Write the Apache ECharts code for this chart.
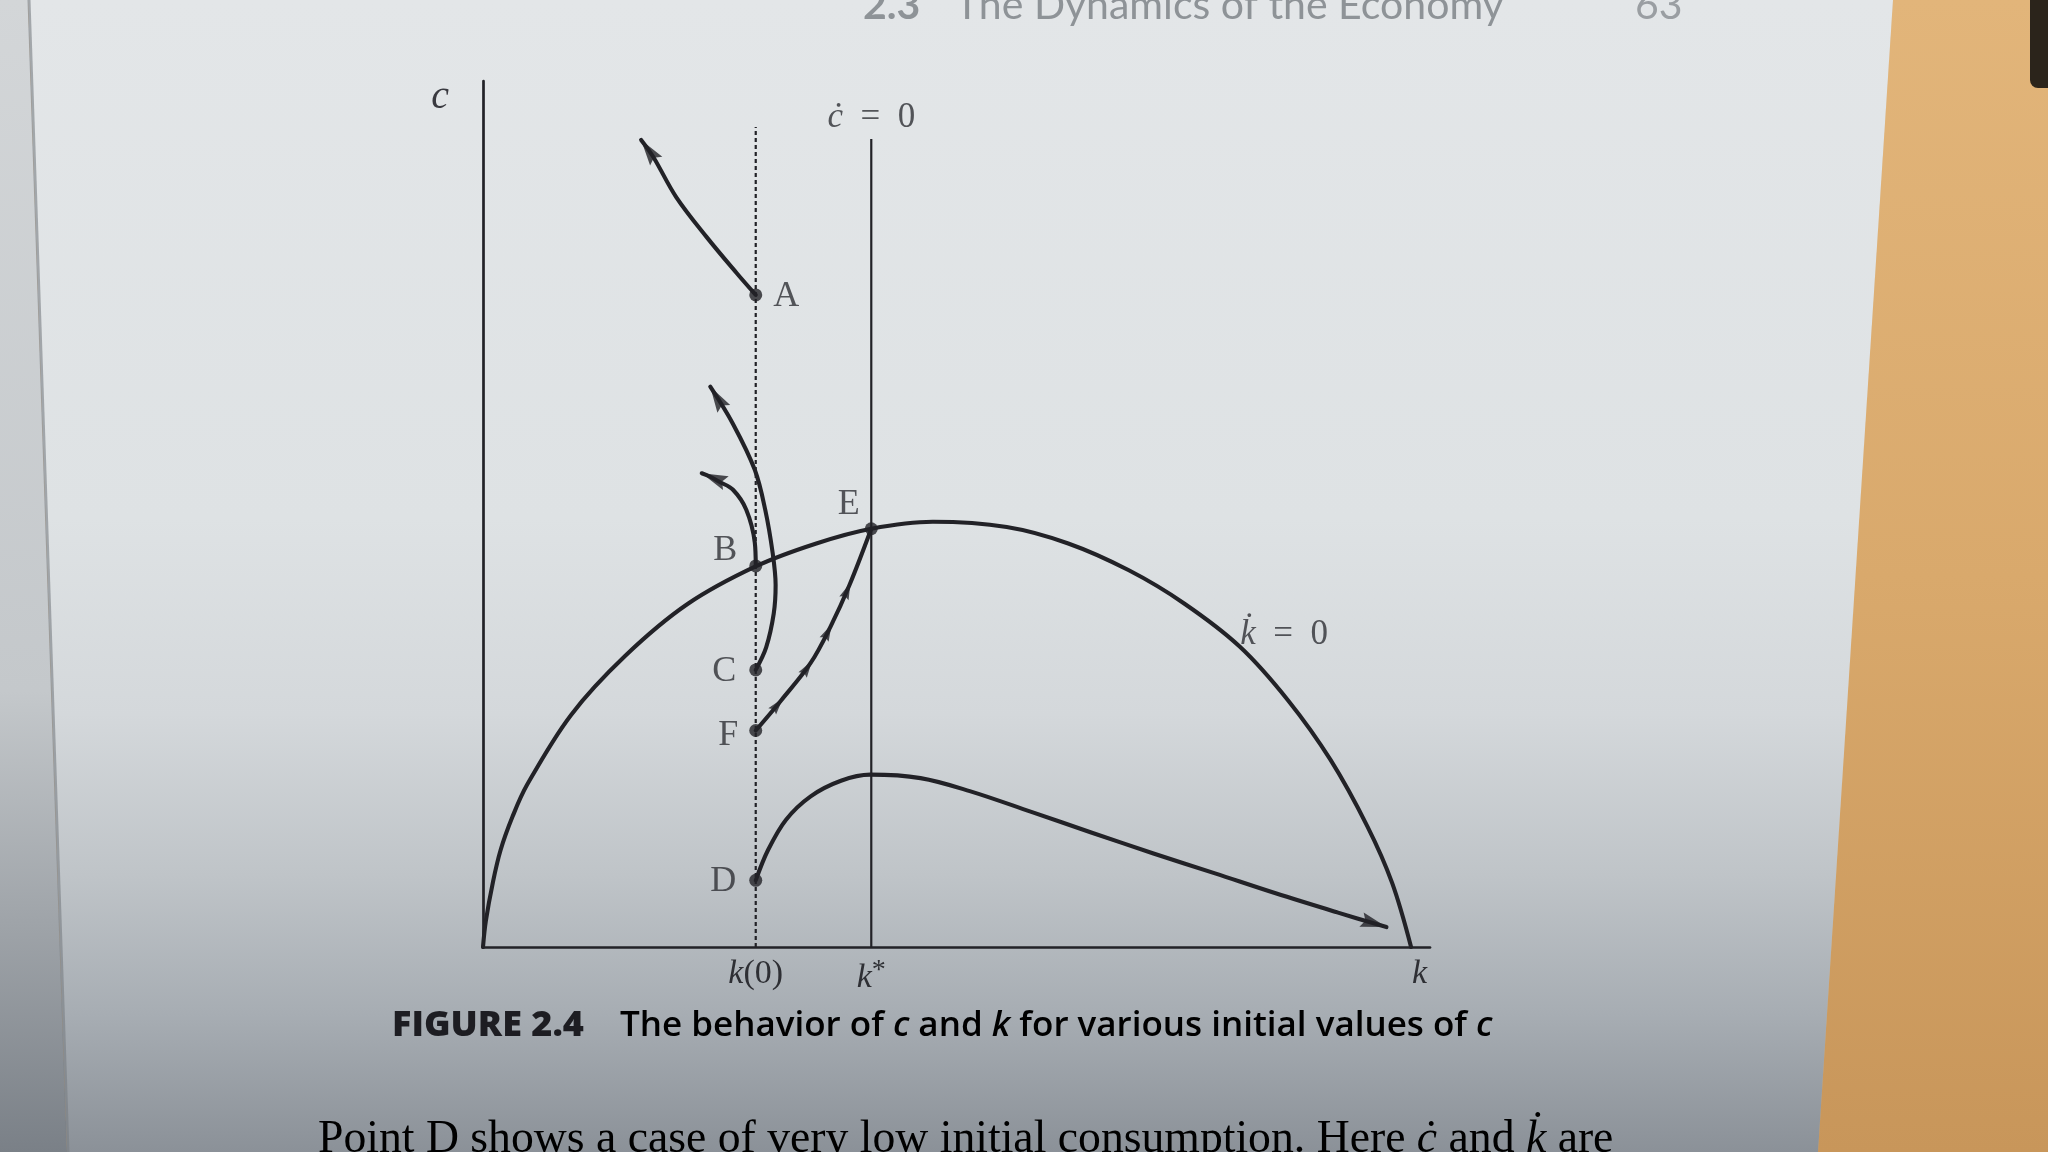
<!DOCTYPE html>
<html><head><meta charset="utf-8">
<script src="https://cdn.jsdelivr.net/npm/echarts@6/dist/echarts.min.js"></script>
<style>html,body{margin:0;padding:0;background:#dcaa6b}#chart{width:2048px;height:1152px}</style>
</head><body><div id="chart"></div>
<script>
// ---------- data ----------
const k0 = 28.8;          // k(0)
const kStar = 41.0;       // k*
const cDotTop = 93.3;     // top of the c-dot = 0 line
const k0LineTop = 94.7;   // top of the dotted k(0) line

// k-dot = 0 locus
const kdotK = [0, 0.3, 1.05, 1.86, 3.1, 4.64, 9.3, 15.0, 21.6, 28.9, 35.2, 41.0, 47.5, 55.3, 61.8, 68.2, 74.0, 79.9, 85.0, 89.5, 93.4, 96.0, 98.0];
const kdotC = [0, 3.0, 7.5, 11.2, 15.0, 18.7, 26.8, 33.6, 39.6, 44.0, 46.6, 48.3, 49.1, 48.5, 46.6, 43.5, 39.7, 34.7, 28.5, 21.6, 13.9, 7.4, 0];

// trajectories
const pathAK = [28.8, 26.8, 23.6, 20.4, 18.0, 16.7];
const pathAC = [75.3, 77.8, 82.0, 86.6, 91.2, 93.2];
const pathBK = [28.8, 28.7, 27.8, 26.4, 25.0, 24.0, 23.1];
const pathBC = [44.0, 46.7, 50.5, 52.8, 53.7, 54.3, 54.7];
const pathCK = [28.8, 29.9, 30.7, 30.9, 30.6, 29.8, 28.7, 26.4, 24.0];
const pathCC = [32.0, 34.6, 38.5, 41.8, 45.4, 50.5, 55.1, 60.4, 64.7];
const pathFK = [28.8, 31.5, 34.6, 36.7, 38.7, 41.0];
const pathFC = [25.0, 28.5, 32.8, 37.0, 41.8, 48.3];
const pathDK = [28.8, 30.1, 32.0, 34.6, 37.8, 40.9, 46.2, 51.4, 57.9, 64.3, 70.8, 77.3, 83.7, 90.2, 95.4];
const pathDC = [7.7, 11.2, 14.7, 17.4, 19.2, 19.9, 19.5, 18.0, 15.6, 13.2, 10.8, 8.5, 6.2, 4.0, 2.3];

// labelled points
const pointNames = ['A', 'B', 'C', 'D', 'E', 'F'];
const pointK = [28.8, 28.8, 28.8, 28.8, 41.0, 28.8];
const pointC = [75.3, 44.0, 32.0, 7.7, 48.3, 25.0];

// x-axis tick labels
const xTickValues = [k0, kStar, 98.9];
const xTickLabels = ['{i|k}(0)', '{i|k}{s|*}', '{i|k}'];

// curve annotations
const annoText = ['{i|ċ}\u2002=\u20020', '{i|k\u0307}\u2002=\u20020'];
const annoK = [kStar, 84.6];
const annoC = [95.7, 36.1];

// ---------- helpers ----------
const zip = (a, b) => a.map((v, i) => [v, b[i]]);
const INK = '#222227';
const TXT = '#2e2f34';
const SERIF = '"Liberation Serif", "DejaVu Serif", serif';
const SANS = '"Open Sans", Lato, sans-serif';

const chart = echarts.init(document.getElementById('chart'), null, {renderer: 'canvas'});

const curve = (name, ks, cs, w) => ({
  name, type: 'line', data: zip(ks, cs), smooth: 0.35, showSymbol: false, symbol: 'none',
  lineStyle: {color: INK, width: w || 4.1, cap: 'round', join: 'round'}, z: 3, silent: true
});

const labelPlace = {
  A: {position: 'right', distance: 11, offset: [0, 2]},
  B: {position: 'left', distance: 12, offset: [0, -15]},
  C: {position: 'left', distance: 13, offset: [0, 2]},
  D: {position: 'left', distance: 13, offset: [0, 1]},
  E: {position: 'left', distance: 5, offset: [0, -24]},
  F: {position: 'left', distance: 11, offset: [0, 5]}
};

const page = [[28, 0], [1893, 0], [1818, 1152], [67, 1152]];

const option = {
  animation: false,
  backgroundColor: '#d9a86b',
  grid: {left: 483, right: 618, top: 81, bottom: 205, containLabel: false},
  xAxis: {
    type: 'value', min: 0, max: 100,
    axisLine: {show: true, onZero: false, lineStyle: {color: INK, width: 2.7}},
    axisTick: {show: false}, splitLine: {show: false},
    axisLabel: {
      show: true, customValues: xTickValues, margin: 10,
      formatter: v => xTickLabels[xTickValues.indexOf(v)] || '',
      fontFamily: SERIF, fontSize: 34, color: TXT,
      rich: {
        i: {fontFamily: SERIF, fontStyle: 'italic', fontSize: 34, color: TXT},
        s: {fontFamily: SERIF, fontSize: 28, color: TXT, padding: [0, 0, 14, 0]}
      }
    }
  },
  yAxis: {
    type: 'value', min: 0, max: 100,
    axisLine: {show: true, onZero: false, lineStyle: {color: INK, width: 2.7}},
    axisTick: {show: false}, splitLine: {show: false}, axisLabel: {show: false},
    name: 'c', nameLocation: 'end', nameGap: -36,
    nameTextStyle: {fontFamily: SERIF, fontStyle: 'italic', fontSize: 40, color: '#3a3a40', align: 'right', padding: [0, 34, 0, 0]}
  },
  graphic: [
    {type: 'polygon', z: -10, shape: {points: [[1893, 0], [2048, 0], [2048, 1152], [1818, 1152]]},
     style: {fill: new echarts.graphic.LinearGradient(0, 0, 0, 1, [{offset: 0, color: '#e2b57a'}, {offset: 0.5, color: '#d9a96c'}, {offset: 1, color: '#c8965a'}])}},
    {type: 'rect', z: -9, shape: {x: 2030, y: -10, width: 30, height: 98, r: 8}, style: {fill: '#2b241b'}},
    {type: 'polygon', z: -10, shape: {points: [[0, 0], [28, 0], [67, 1152], [0, 1152]]},
     style: {fill: new echarts.graphic.LinearGradient(0, 0, 0, 1, [{offset: 0, color: '#d3d6d8'}, {offset: 0.6, color: '#c4c8cb'}, {offset: 1, color: '#7a8087'}])}},
    {type: 'polygon', z: -10, shape: {points: page},
     style: {fill: new echarts.graphic.LinearGradient(0, 0, 0, 1, [
       {offset: 0, color: '#e3e6e8'}, {offset: 0.45, color: '#dee2e4'}, {offset: 0.62, color: '#d4d8db'},
       {offset: 0.76, color: '#bfc4c8'}, {offset: 0.88, color: '#a7adb3'}, {offset: 1, color: '#8b9198'}])}},
    {type: 'polyline', z: -9, shape: {points: [[29, 0], [68, 1152]]}, style: {stroke: 'rgba(120,125,130,0.6)', lineWidth: 3}},
    // running head
    {type: 'text', z: 5, x: 863, y: 26, style: {text: '2.3', fontFamily: 'Lato, sans-serif', fontWeight: 'bold', fontSize: 41, fill: '#8e9397', verticalAlign: 'bottom'}},
    {type: 'text', z: 5, x: 955, y: 26, style: {text: 'The Dynamics of the Economy', fontFamily: 'Lato, sans-serif', fontSize: 41, fill: '#8e9397', verticalAlign: 'bottom'}},
    {type: 'text', z: 5, x: 1635, y: 26, style: {text: '63', fontFamily: 'Lato, sans-serif', fontSize: 41, fill: '#9a9ea2', verticalAlign: 'bottom'}},
    // caption
    {type: 'text', z: 5, x: 392, y: 1026, style: {text: 'FIGURE 2.4', fontFamily: SANS, fontWeight: 800, fontSize: 36, fill: '#1d1d22', verticalAlign: 'middle'}},
    {type: 'text', z: 5, x: 620, y: 1026, style: {
      text: '{n|The behavior of }{i|c}{n| and }{i|k}{n| for various initial values of }{i|c}',
      verticalAlign: 'middle',
      rich: {
        n: {fontFamily: SANS, fontWeight: 600, fontSize: 35, color: '#1d1d22'},
        i: {fontFamily: SANS, fontWeight: 600, fontStyle: 'italic', fontSize: 35, color: '#1d1d22'}
      }}},
    // body text
    {type: 'text', z: 5, x: 318, y: 1163, style: {
      text: '{n|Point D shows a case of very low initial consumption. Here }{i|ċ}{n| and }{i|k\u0307}{n| are}',
      verticalAlign: 'bottom',
      rich: {
        n: {fontFamily: SERIF, fontSize: 45.7, color: '#24242a'},
        i: {fontFamily: SERIF, fontStyle: 'italic', fontSize: 45.7, color: '#24242a'}
      }}}
  ],
  series: [
    {name: 'k(0)', type: 'line', data: [[k0, 0], [k0, k0LineTop]], symbol: 'none', silent: true,
     lineStyle: {color: INK, width: 2.2, type: [4, 3]}, z: 2},
    {name: 'cdot', type: 'line', data: [[kStar, 0], [kStar, cDotTop]], symbol: 'none', silent: true,
     lineStyle: {color: INK, width: 2.2}, z: 2},
    curve('kdot', kdotK, kdotC, 4.1),
    curve('A', pathAK, pathAC),
    curve('B', pathBK, pathBC),
    curve('C', pathCK, pathCC),
    curve('F', pathFK, pathFC),
    curve('D', pathDK, pathDC),
    {name: 'points', type: 'scatter', z: 6, silent: true, symbol: 'circle', symbolSize: 13,
     itemStyle: {color: INK},
     data: pointNames.map((n, i) => ({
       value: [pointK[i], pointC[i]], name: n,
       label: Object.assign({show: true, formatter: n, fontFamily: SERIF, fontSize: 36, color: TXT}, labelPlace[n])
     }))},
    {name: 'annotations', type: 'scatter', z: 6, silent: true, symbolSize: 0,
     data: annoText.map((t, i) => ({value: [annoK[i], annoC[i]]})),
     label: {show: true, position: 'inside',
       formatter: p => annoText[p.dataIndex],
       fontFamily: SERIF, fontSize: 35, color: TXT,
       rich: {i: {fontFamily: SERIF, fontStyle: 'italic', fontSize: 35, color: TXT}}}},
    {id: 'arrows', name: 'arrows', type: 'scatter', z: 7, silent: true, data: []}
  ]
};
chart.setOption(option);

// arrowheads, oriented along each path using the chart's own scales
const ARROW = 'path://M0,0 L6,16 L0,13.5 L-6,16 Z';
function arrowAt(ks, cs, i, w, len, mid) {
  const a = chart.convertToPixel({gridIndex: 0}, [ks[i - 1], cs[i - 1]]);
  const bIdx = mid && i + 1 < ks.length ? i + 1 : i;
  const b = chart.convertToPixel({gridIndex: 0}, [ks[bIdx], cs[bIdx]]);
  const dx = b[0] - a[0], dy = b[1] - a[1];
  const L = Math.hypot(dx, dy) || 1;
  const ux = dx / L, uy = dy / L;
  return {
    value: [ks[i], cs[i]],
    symbol: ARROW, symbolSize: [w, len],
    symbolRotate: Math.atan2(-ux, -uy) * 180 / Math.PI,
    symbolOffset: [-ux * len * (mid ? 0.35 : 0.5), -uy * len * (mid ? 0.35 : 0.5)],
    itemStyle: {color: INK}
  };
}
const arrows = [
  arrowAt(pathAK, pathAC, pathAK.length - 1, 15, 26),
  arrowAt(pathBK, pathBC, pathBK.length - 1, 15, 26),
  arrowAt(pathCK, pathCC, pathCK.length - 1, 15, 26),
  arrowAt(pathDK, pathDC, pathDK.length - 1, 15, 26),
  arrowAt(pathFK, pathFC, 1, 10, 17, true),
  arrowAt(pathFK, pathFC, 2, 10, 17, true),
  arrowAt(pathFK, pathFC, 3, 10, 17, true),
  arrowAt(pathFK, pathFC, 4, 10, 17, true)
];
chart.setOption({series: [{id: 'arrows', data: arrows}]});
</script>
</body></html>
